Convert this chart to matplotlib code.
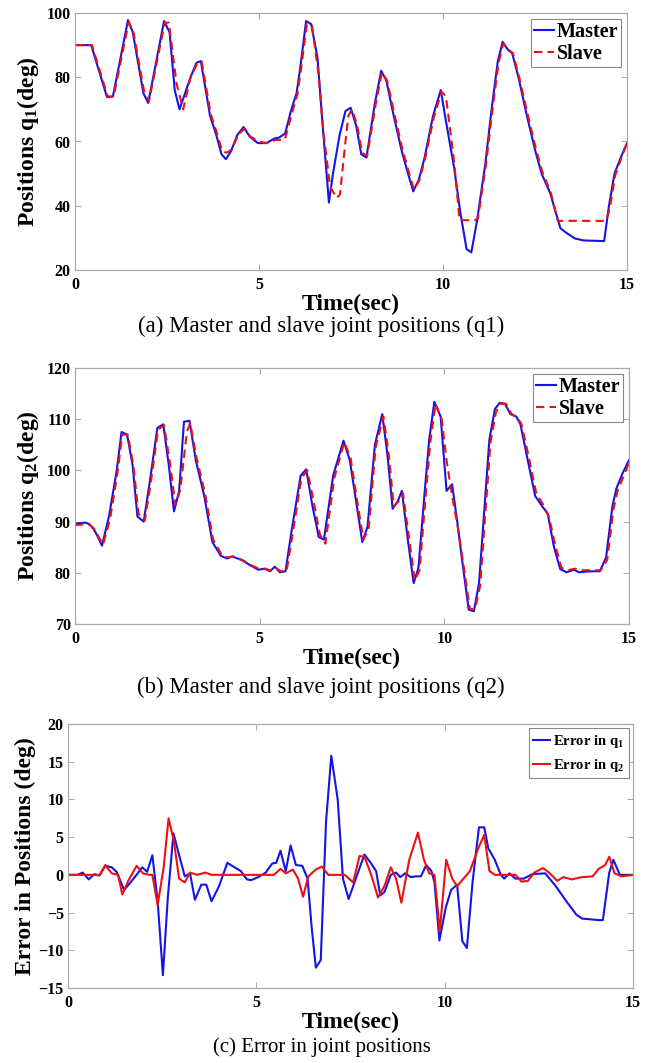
import matplotlib
matplotlib.use('Agg')
import matplotlib.pyplot as plt

plt.rcParams['font.family'] = ['Liberation Serif', 'DejaVu Serif']
plt.rcParams['mathtext.fontset'] = 'custom'
plt.rcParams['mathtext.rm'] = 'Liberation Serif'
plt.rcParams['mathtext.bf'] = 'Liberation Serif:bold'
plt.rcParams['mathtext.it'] = 'Liberation Serif:italic'

# ---- joint 1: master / slave positions (deg) ----
t1_master = [0, 0.44, 0.87, 1.03, 1.44, 1.57, 1.86, 1.99, 2.42, 2.57, 2.71, 2.84, 3.14, 3.30, 3.42,
             3.67, 3.84, 3.98, 4.10, 4.24, 4.41, 4.58, 4.75, 4.97, 5.20, 5.43, 5.54, 5.71, 5.88, 6.02,
             6.11, 6.28, 6.42, 6.59, 6.73, 6.90, 7.01, 7.19, 7.35, 7.49, 7.64, 7.78, 7.92, 8.15, 8.32,
             8.46, 8.66, 8.88, 9.05, 9.19, 9.34, 9.50, 9.73, 9.94, 10.07, 10.30, 10.47, 10.64, 10.77,
             10.92, 11.15, 11.32, 11.49, 11.62, 11.77, 11.88, 12.05, 12.28, 12.51, 12.68, 12.91, 13.19,
             13.36, 13.59, 13.82, 14.38, 14.51, 14.66, 14.83, 15.0]
q1_master = [90, 90, 73.8, 74, 97.8, 94, 75, 72, 97.5, 94, 76, 70, 80, 84.5, 85,
             68, 62, 56, 54.5, 57, 62, 64.5, 61.5, 59.5, 59.5, 61, 61.2, 62.5, 70, 75,
             82, 97.5, 96.5, 86, 65, 41, 50, 62, 69.5, 70.5, 65, 56, 55, 72, 82,
             79, 68, 57, 50, 44.5, 48, 55, 68, 76, 67, 52, 38, 26.5, 25.5,
             35, 53, 70, 85, 91, 88.5, 87.5, 80, 68, 57, 50, 44, 33,
             31.5, 29.8, 29.2, 29, 40, 50, 55, 59.5]

t1_slave = [0, 0.46, 0.89, 1.05, 1.46, 1.59, 1.88, 2.01, 2.44, 2.55, 2.76, 2.94, 3.14, 3.31, 3.44,
            3.69, 3.86, 4.00, 4.12, 4.26, 4.43, 4.60, 4.77, 4.99, 5.22, 5.45, 5.70, 5.90, 6.04, 6.13,
            6.30, 6.44, 6.61, 6.75, 6.93, 7.11, 7.20, 7.34, 7.43, 7.52, 7.66, 7.80, 7.94, 8.17, 8.34,
            8.48, 8.68, 8.90, 9.07, 9.21, 9.36, 9.52, 9.75, 9.96, 10.08, 10.30, 10.45, 10.86, 10.95,
            11.17, 11.34, 11.51, 11.64, 11.79, 11.90, 12.07, 12.30, 12.53, 12.70, 12.93, 13.12, 14.43,
            14.53, 14.68, 14.85, 15.0]
q1_slave = [90, 90, 74, 74, 97.2, 94, 75.5, 72.5, 97, 97, 78, 70, 80, 84, 85,
            68.5, 62.5, 57, 56.5, 57.5, 62, 64, 61.5, 60, 59.5, 60.5, 60.5, 69, 74.5, 81.5,
            96.5, 96, 81.7, 63, 46, 42.4, 43.5, 59, 68, 70, 65.5, 56.5, 55.5, 71.5, 81.5,
            79, 68.5, 57.5, 50.5, 45, 48, 55, 67.5, 75.5, 74, 54, 35.5, 35.5, 36,
            53, 69.5, 84.5, 90.5, 88.5, 87.5, 80, 68.5, 57.5, 50.5, 44, 35.3, 35.3,
            39, 49.5, 55, 59.5]

# ---- joint 2: master / slave positions (deg) ----
t2_master = [0, 0.28, 0.39, 0.51, 0.62, 0.73, 0.92, 1.13, 1.26, 1.41, 1.56, 1.69, 1.86, 2.03, 2.23,
             2.39, 2.54, 2.68, 2.82, 2.95, 3.10, 3.27, 3.50, 3.72, 3.95, 4.12, 4.26, 4.51, 4.74, 4.96,
             5.13, 5.28, 5.41, 5.55, 5.70, 5.86, 6.11, 6.26, 6.43, 6.60, 6.74, 6.99, 7.27, 7.44, 7.61,
             7.78, 7.92, 8.12, 8.32, 8.46, 8.60, 8.74, 8.85, 9.02, 9.17, 9.30, 9.47, 9.59, 9.73, 9.90,
             10.06, 10.21, 10.35, 10.49, 10.66, 10.80, 10.94, 11.11, 11.22, 11.37, 11.50, 11.64, 11.79,
             11.95, 12.06, 12.23, 12.46, 12.63, 12.80, 12.97, 13.14, 13.31, 13.51, 13.65, 13.98, 14.21,
             14.38, 14.55, 14.66, 14.83, 15.0]
q2_master = [89.6, 89.8, 89.5, 88.5, 87, 85.3, 91, 100, 107.5, 107, 101, 91, 90, 98, 108.3,
             109, 101, 92, 96, 109.5, 109.7, 102, 95, 86, 83.3, 82.8, 83.2, 82.5, 81.5, 80.6,
             80.8, 80.3, 81.2, 80.1, 80.3, 88, 99, 100.2, 93, 87, 86.5, 99, 105.8, 102, 94,
             86, 89, 105, 111, 103, 92.5, 94, 96, 86, 78, 81, 96, 106, 113.4, 110.5,
             96, 97.3, 90, 82, 72.8, 72.5, 78, 95, 106, 112, 113.2, 113, 111,
             110.5, 109, 103, 95, 93.2, 91.5, 85, 80.7, 80.1, 80.6, 80.1, 80.3, 80.3,
             83, 93, 96.5, 99.5, 102]

t2_slave = [0, 0.30, 0.41, 0.53, 0.64, 0.76, 0.95, 1.15, 1.28, 1.43, 1.58, 1.72, 1.89, 2.05, 2.25,
            2.41, 2.57, 2.72, 2.85, 3.03, 3.12, 3.29, 3.52, 3.74, 3.97, 4.14, 4.28, 4.53, 4.76, 4.98,
            5.15, 5.30, 5.43, 5.57, 5.73, 5.89, 6.13, 6.29, 6.46, 6.63, 6.78, 7.02, 7.29, 7.46, 7.63,
            7.81, 7.95, 8.14, 8.35, 8.49, 8.63, 8.77, 8.88, 9.05, 9.20, 9.33, 9.50, 9.62, 9.76, 9.93,
            10.06, 10.21, 10.35, 10.52, 10.69, 10.83, 10.97, 11.14, 11.25, 11.40, 11.53, 11.67, 11.82,
            11.98, 12.09, 12.26, 12.49, 12.66, 12.83, 13.00, 13.17, 13.34, 13.54, 13.68, 14.01, 14.24,
            14.41, 14.58, 14.69, 14.86, 15.0]
q2_slave = [89.3, 89.5, 89.3, 88.5, 87, 85.5, 90.5, 99.5, 107, 107, 101, 91.5, 90.2, 97.5, 108,
            108.8, 101.5, 93.2, 96.2, 107.6, 109.2, 102.5, 95.5, 86.5, 83.5, 83, 83.2, 82.5, 81.5, 80.8,
            80.8, 80.4, 81, 80.3, 80.4, 87.5, 98.5, 100, 94, 87.5, 85.7, 98.5, 105.5, 102.5, 94.5,
            86.5, 88.5, 104.5, 110.5, 103.5, 93, 94, 95.5, 86.5, 78.5, 80.5, 95.5, 105.5, 113, 110,
            102, 95, 89.5, 81.5, 73, 72.8, 77.5, 94.5, 105.5, 111.5, 113, 113, 111,
            110.3, 109, 103.5, 95.5, 93.5, 91, 85.5, 81, 80.5, 80.8, 80.5, 80.5, 80.5,
            82.5, 92.5, 96, 99, 101.5]

# ---- tracking errors (deg) ----
t_err1 = [0, 0.25, 0.39, 0.55, 0.70, 0.83, 0.99, 1.16, 1.29, 1.49, 1.66, 1.82, 1.97, 2.10, 2.24,
          2.38, 2.52, 2.65, 2.80, 2.93, 3.10, 3.24, 3.37, 3.54, 3.67, 3.81, 4.01, 4.23, 4.42, 4.59,
          4.75, 4.86, 5.05, 5.25, 5.42, 5.53, 5.64, 5.78, 5.91, 6.05, 6.22, 6.36, 6.47, 6.58, 6.71,
          6.85, 6.99, 7.16, 7.30, 7.45, 7.57, 7.87, 8.05, 8.18, 8.29, 8.40, 8.57, 8.71, 8.82, 8.95,
          9.10, 9.23, 9.37, 9.51, 9.65, 9.73, 9.86, 10.03, 10.17, 10.33, 10.47, 10.59, 10.74, 10.91,
          11.05, 11.16, 11.33, 11.49, 11.58, 11.72, 11.88, 12.10, 12.33, 12.67, 12.95, 13.23, 13.50,
          13.65, 13.88, 14.09, 14.20, 14.37, 14.48, 14.65, 15.0]
err_q1 = [0, 0, 0.3, -0.6, 0.1, -0.1, 1.2, 1.0, 0.4, -2.0, -1.0, 0, 1.0, 0.4, 2.6,
          -3.5, -13.3, -3, 5.5, 3, -0.2, 0.2, -3.3, -1.3, -1.3, -3.5, -1.5, 1.6, 1, 0.5,
          -0.6, -0.7, -0.3, 0.3, 1.5, 1.6, 3.2, 0.5, 3.9, 1.3, 1.2, -0.5, -7, -12.3, -11.3,
          7, 15.8, 10, -0.5, -3.2, -1.5, 2.7, 1.5, 0.5, -2.7, -2.3, 0, 0.3, -0.3, 0.2,
          -0.3, -0.2, -0.2, 1.3, 0.5, -1, -8.7, -4.3, -2, -1.3, -8.8, -9.7, -1, 6.3,
          6.3, 3.5, 2, 0, -0.5, 0.2, -0.5, -0.5, 0.1, 0.2, -1.5, -3.5, -5.3,
          -5.8, -5.9, -6.0, -6, 0.3, 2, 0, 0]

t_err2 = [0, 0.85, 0.99, 1.16, 1.33, 1.44, 1.60, 1.82, 1.99, 2.16, 2.24, 2.38, 2.54, 2.67, 2.81,
          2.95, 3.10, 3.24, 3.43, 3.65, 3.81, 5.47, 5.64, 5.78, 5.97, 6.11, 6.24, 6.38, 6.58, 6.74,
          6.91, 7.35, 7.57, 7.74, 7.87, 8.05, 8.23, 8.40, 8.57, 8.71, 8.85, 9.06, 9.29, 9.45, 9.59,
          9.73, 9.87, 10.04, 10.20, 10.33, 10.50, 10.67, 10.89, 11.05, 11.19, 11.33, 11.88, 12.04,
          12.21, 12.38, 12.61, 12.77, 12.99, 13.15, 13.37, 13.65, 13.93, 14.09, 14.26, 14.37, 14.51,
          14.70, 15.0]
err_q2 = [0, 0, 1.3, 0.2, 0, -2.6, -0.8, 1.2, 0.2, 0, 0, -4, 1, 7.5, 4.5,
          -0.5, -1, 0.3, 0, 0.3, 0, 0, 0.8, 0.2, 0.7, -0.5, -2.9, -0.2, 0.7, 1.1,
          0, 0, -1, 2.5, 2.4, 0, -3, -1.5, 1, -0.5, -3.7, 2, 5.6, 2, 0.2,
          0, -7.5, 2, -0.5, -1.5, -0.5, 0.5, 3.5, 5.3, 0.5, 0, 0, -0.9,
          -0.8, 0.3, 0.9, 0.3, -0.8, -0.3, -0.6, -0.3, -0.2, 0.8, 1.3, 2.4, 0.2,
          -0.2, 0]

BLUE = '#1414e6'
RED = '#ee1010'
W, H = 651, 1063


def style_axes(ax, ylim, yticks):
    ax.set_xlim(0, 15)
    ax.set_ylim(*ylim)
    ax.set_xticks([0, 5, 10, 15])
    ax.set_yticks(yticks)
    ax.tick_params(direction='in', top=True, right=True, length=4, width=0.6,
                   color='#999999', labelsize=11.5, pad=3)
    ax.tick_params(axis='x', pad=5)
    for lbl in ax.get_xticklabels() + ax.get_yticklabels():
        lbl.set_fontweight('bold')
    for s in ax.spines.values():
        s.set_color('#aaaaaa')
        s.set_linewidth(0.9)
    ax.set_xlabel('Time(sec)', fontsize=17, fontweight='bold', labelpad=1)


def add_axes(left, top, right, bottom):
    return fig.add_axes([left / W, 1 - bottom / H, (right - left) / W, (bottom - top) / H])


def style_legend(leg):
    leg.get_frame().set_edgecolor('#888888')
    leg.get_frame().set_linewidth(0.8)


fig = plt.figure(figsize=(6.51, 10.63), dpi=100, facecolor='white')

# (a)
ax1 = add_axes(75, 13, 627, 270)
ax1.plot(t1_master, q1_master, color=BLUE, lw=1.5, label='Master')
ax1.plot(t1_slave, q1_slave, color=RED, lw=1.5, ls=(0, (4, 2.5)), label='Slave')
style_axes(ax1, (20, 100), [20, 40, 60, 80, 100])
ax1.set_ylabel(r'Positions q$_\mathbf{1}$(deg)', fontsize=17, fontweight='bold', labelpad=4)
style_legend(ax1.legend(loc='upper right', prop={'weight': 'bold', 'size': 14.5}, handlelength=1.0,
                        handletextpad=0.1, borderpad=0.15, labelspacing=0.1, fancybox=False,
                        borderaxespad=0.3, framealpha=1))
fig.text(0.493, 1 - 326 / H, '(a) Master and slave joint positions (q1)', ha='center', va='center',
         fontsize=16.5)

# (b)
ax2 = add_axes(75, 368, 629, 624)
ax2.plot(t2_master, q2_master, color=BLUE, lw=1.5, label='Master')
ax2.plot(t2_slave, q2_slave, color=RED, lw=1.5, ls=(0, (4, 2.5)), label='Slave')
style_axes(ax2, (70, 120), [70, 80, 90, 100, 110, 120])
ax2.set_ylabel(r'Positions q$_\mathbf{2}$(deg)', fontsize=17, fontweight='bold', labelpad=4)
style_legend(ax2.legend(loc='upper right', prop={'weight': 'bold', 'size': 14.5}, handlelength=1.0,
                        handletextpad=0.1, borderpad=0.15, labelspacing=0.1, fancybox=False,
                        borderaxespad=0.3, framealpha=1))
fig.text(0.493, 1 - 687 / H, '(b) Master and slave joint positions (q2)', ha='center', va='center',
         fontsize=16.5)

# (c)
ax3 = add_axes(68, 724, 633, 988)
ax3.plot(t_err1, err_q1, color=BLUE, lw=1.5, label=r'Error in q$_\mathbf{1}$')
ax3.plot(t_err2, err_q2, color=RED, lw=1.5, label=r'Error in q$_\mathbf{2}$')
style_axes(ax3, (-15, 20), [-15, -10, -5, 0, 5, 10, 15, 20])
ax3.set_ylabel('Error in Positions (deg)', fontsize=17, fontweight='bold', labelpad=2)
style_legend(ax3.legend(loc='upper right', prop={'weight': 'bold', 'size': 10.5}, handlelength=1.2,
                        handletextpad=0.2, borderpad=0.3, labelspacing=0.5, fancybox=False,
                        borderaxespad=0.3, framealpha=1))
fig.text(0.495, 1 - 1047 / H, '(c) Error in joint positions', ha='center', va='center', fontsize=15)

fig.savefig('out.png', dpi=100, facecolor='white')
